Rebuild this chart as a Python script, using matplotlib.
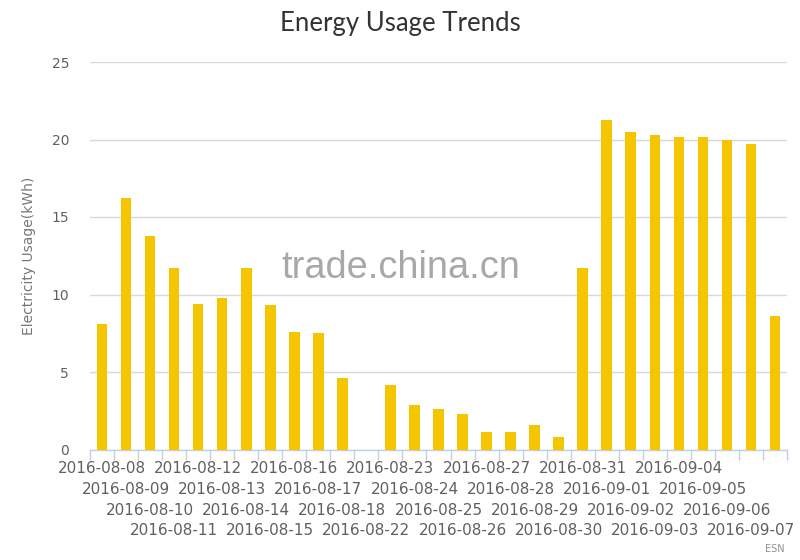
import matplotlib
matplotlib.use("Agg")
import matplotlib.pyplot as plt
import numpy as np

dates = [
    "2016-08-08", "2016-08-09", "2016-08-10", "2016-08-11", "2016-08-12",
    "2016-08-13", "2016-08-14", "2016-08-15", "2016-08-16", "2016-08-17",
    "2016-08-18", "2016-08-22", "2016-08-23", "2016-08-24", "2016-08-25",
    "2016-08-26", "2016-08-27", "2016-08-28", "2016-08-29", "2016-08-30",
    "2016-08-31", "2016-09-01", "2016-09-02", "2016-09-03", "2016-09-04",
    "2016-09-05", "2016-09-06", "2016-09-07", "",
]
usage_kwh = [
    8.1, 16.2, 13.8, 11.7, 9.4,
    9.8, 11.7, 9.3, 7.6, 7.5,
    4.6, 0.0, 4.15, 2.9, 2.6,
    2.3, 1.1, 1.1, 1.55, 0.8,
    11.7, 21.25, 20.5, 20.3, 20.15,
    20.15, 19.95, 19.7, 8.6,
]
y_ticks = [0, 5, 10, 15, 20, 25]

bar_color = "#F5C600"
grid_color = "#D8D8D8"
axis_color = "#C0D0E0"
label_color = "#606060"

plt.rcParams["font.family"] = "DejaVu Sans"

fig = plt.figure(figsize=(8, 5.6), dpi=100)
ax = fig.add_axes([90 / 800, 1 - 449.5 / 560, 697 / 800, 387.5 / 560])

x = np.arange(len(dates))
ax.bar(x, usage_kwh, width=0.44, color=bar_color, zorder=3)

ax.set_xlim(-0.5, len(dates) - 0.5)
ax.set_ylim(0, 25)
ax.set_yticks(y_ticks)
ax.set_yticklabels([str(v) for v in y_ticks], fontsize=10, color=label_color)
ax.tick_params(axis="y", length=0, pad=15)
ax.grid(axis="y", color=grid_color, linewidth=1, zorder=0)

for side in ["top", "right", "left"]:
    ax.spines[side].set_visible(False)
ax.spines["bottom"].set_color(axis_color)
ax.spines["bottom"].set_linewidth(1)

# category boundary ticks, labels drawn separately in four staggered rows
ax.set_xticks(x)
ax.set_xticklabels([])
ax.tick_params(axis="x", which="major", length=0)
ax.set_xticks(np.arange(-0.5, len(dates)), minor=True)
ax.tick_params(axis="x", which="minor", length=7.5, color=axis_color, width=1)

for i, d in enumerate(dates):
    row = i % 4
    ax.annotate(d, xy=(i, 0), xycoords=("data", "axes fraction"),
                xytext=(0, -8.5 - row * 14.9), textcoords="offset points",
                ha="center", va="top", fontsize=11, color=label_color)

ax.set_ylabel("Electricity Usage(kWh)", fontsize=10, color="#777777")
ax.yaxis.set_label_coords(-0.0775, 0.5)

fig.text(0.5, 1 - 23 / 560, "Energy Usage Trends", ha="center", va="center",
         fontsize=18.5, color="#333333", family="Lato")

# watermark and credit
fig.text(401 / 800, 1 - 268 / 560, "trade.china.cn", ha="center", va="center",
         fontsize=27.4, color="#A8A8A8", family="Liberation Sans", zorder=5)
fig.text(775 / 800, 1 - 549 / 560, "ESN", ha="center", va="center",
         fontsize=7, color="#909090")

fig.savefig("out.png", dpi=100, facecolor="white")
plt.close(fig)
